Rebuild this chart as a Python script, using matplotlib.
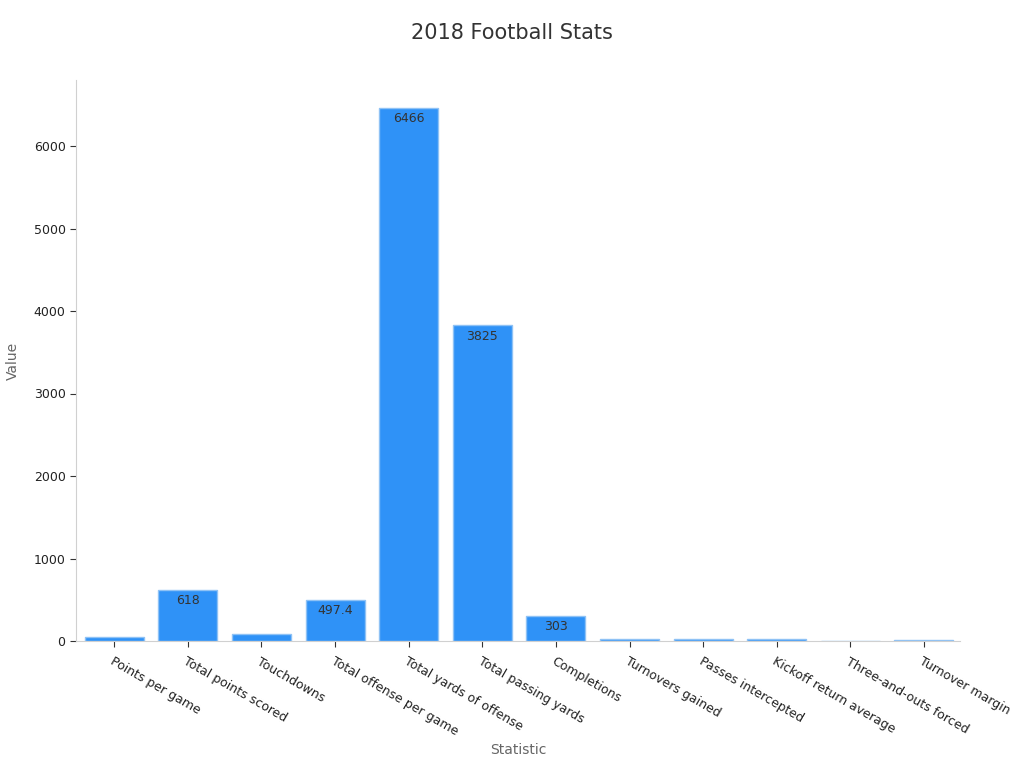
import matplotlib.pyplot as plt
import numpy as np

# Data
stats = ["Points per game", "Total points scored", "Touchdowns", "Total offense per game",
         "Total yards of offense", "Total passing yards", "Completions", "Turnovers gained",
         "Passes intercepted", "Kickoff return average", "Three-and-outs forced", "Turnover margin"]
values = [47.5, 618, 81, 497.4, 6466, 3825, 303, 30, 20, 27, 4, 12]
labels = ["", "618", "", "497.4", "6466", "3825", "303", "", "", "", "", ""]

x = np.arange(len(stats))

fig = plt.figure(figsize=(10.24, 7.68), dpi=100)
ax = fig.add_axes([76 / 1024, 1 - 641 / 768, (960 - 76) / 1024, (641 - 80) / 768])

bars = ax.bar(x, values, width=0.8, color="#2f92f7", edgecolor="#8fc2f5", linewidth=1)

for b, lab in zip(bars, labels):
    if lab:
        ax.text(b.get_x() + b.get_width() / 2, b.get_height() - 50, lab,
                ha="center", va="top", fontsize=9, color="#333333")

ax.set_xlim(-0.52, 11.49)
ax.set_ylim(0, 6800)
ax.set_yticks([0, 1000, 2000, 3000, 4000, 5000, 6000])

ax.set_xticks(x)
ax.set_xticklabels(stats, rotation=-30, ha="left", rotation_mode="anchor", fontsize=9, color="#222222")
ax.tick_params(axis="y", labelsize=9, labelcolor="#222222", length=4, color="#333333")
ax.tick_params(axis="x", length=4, color="#333333", pad=6)

ax.spines["top"].set_visible(False)
ax.spines["right"].set_visible(False)
ax.spines["left"].set_color("#d0d0d0")
ax.spines["bottom"].set_color("#d0d0d0")

ax.set_xlabel("Statistic", fontsize=10, color="#666666")
ax.set_ylabel("Value", fontsize=10, color="#666666")
ax.xaxis.set_label_coords(0.5, -(750 - 641) / 561, transform=ax.transAxes)
ax.yaxis.set_label_coords(-(76 - 13) / 884, 0.5, transform=ax.transAxes)
ax.xaxis.label.set_va("center")
ax.yaxis.label.set_va("center")
fig.suptitle("2018 Football Stats", y=1 - 33 / 768, va="center", fontsize=15, color="#333333")

fig.savefig("out.png", dpi=100)
